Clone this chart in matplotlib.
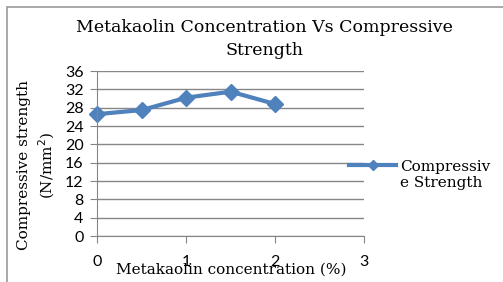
import matplotlib.pyplot as plt
from matplotlib.lines import Line2D
from matplotlib.patches import Rectangle

plt.rcParams['font.family'] = ['DejaVu Serif']

concentration = [0, 0.5, 1, 1.5, 2]
strength = [26.6, 27.5, 30.2, 31.5, 28.8]
yticks = [0, 4, 8, 12, 16, 20, 24, 28, 32, 36]
xticks = [0, 1, 2, 3]

blue = '#4f81bd'
grid = '#868686'

fig = plt.figure(figsize=(5.03, 2.82), dpi=100)
ax = fig.add_axes([0.1938, 0.163, 0.53, 0.585])

# outer chart border (cropped on the right and bottom)
fig.patches.append(Rectangle((0.014, -0.05), 1.2, 1.025, transform=fig.transFigure,
                             fill=False, edgecolor='#999999', lw=1.2))

ax.plot(concentration, strength, color=blue, lw=3, marker='D', ms=8.5,
        markeredgecolor=blue, markerfacecolor=blue, clip_on=False)

ax.set_xlim(0, 3)
ax.set_ylim(0, 36)
ax.set_yticks(yticks)
ax.set_xticks(xticks)
ax.yaxis.grid(True, color=grid, lw=1)
ax.set_axisbelow(True)
for s in ['top', 'right']:
    ax.spines[s].set_visible(False)
ax.spines['left'].set_color(grid)
ax.spines['bottom'].set_color(grid)
ax.tick_params(axis='y', length=5, color=grid, labelsize=11.5, pad=5)
ax.tick_params(axis='x', length=5, color=grid, labelsize=11.5, pad=9)
for lab in ax.get_xticklabels() + ax.get_yticklabels():
    lab.set_family('Lato')

fig.text(231 / 503, 1 - 270 / 282, 'Metakaolin concentration (%)', fontsize=11,
         ha='center', va='center')
fig.text(37 / 503, 1 - 165 / 282, 'Compressive strength\n(N/mm$^2$)', fontsize=11,
         rotation=90, ha='center', va='center', linespacing=1.3)

fig.text(0.526, 1 - 39 / 282, 'Metakaolin Concentration Vs Compressive\nStrength',
         ha='center', va='center', fontsize=12.5, linespacing=1.4)

# legend
fig.lines.append(Line2D([349 / 503, 396 / 503], [1 - 165 / 282] * 2, transform=fig.transFigure,
                        color=blue, lw=3))
fig.lines.append(Line2D([373 / 503], [1 - 165 / 282], transform=fig.transFigure,
                        color=blue, marker='D', ms=5, lw=0))
fig.text(400 / 503, 1 - 175 / 282, 'Compressiv\ne Strength', ha='left', va='center',
         fontsize=11, linespacing=1.2)

fig.savefig('out.png', dpi=100)
